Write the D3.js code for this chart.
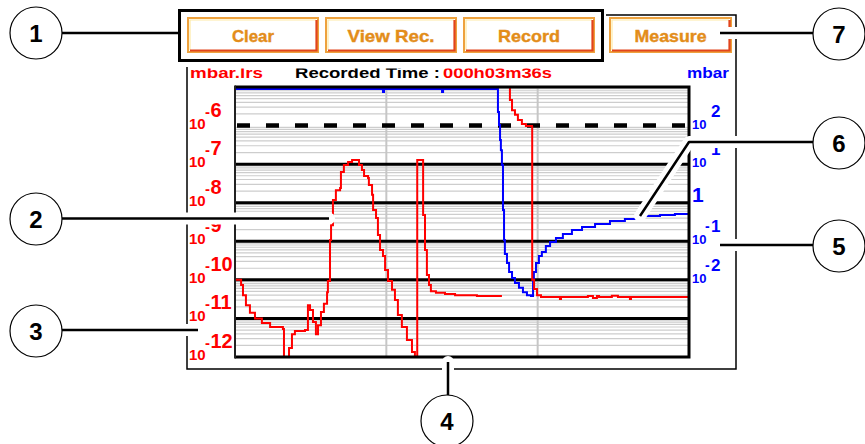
<!DOCTYPE html>
<html>
<head>
<meta charset="utf-8">
<script src="https://cdn.jsdelivr.net/npm/d3@7"></script>
<style>
  html, body { margin: 0; padding: 0; background: #fff; }
  svg { display: block; font-family: "Liberation Sans", Arial, sans-serif; }
</style>
</head>
<body>
<svg id="chart" width="865" height="444"></svg>
<script>
// Leak rate trace (mbar·l/s) against elapsed time in seconds; null = off-scale gap
const leakTime = [0, 2.4, 2.9, 3.8, 5.2, 7.1, 9.5, 12.8, 16.7, 22.8, 23.3, 25.2, 25.7, 27.1, 28.5, 33.3, 34.3, 34.7, 35.7, 37.1,
  38.5, 39.5, 40.9, 42.3, 43.8, 44.2, 45.2, 45.7, 46.6, 48.0, 50.0, 50.4, 51.8, 53.8, 55.7, 57.6, 59.0, 60.4, 61.4, 63.3,
  63.7, 65.2, 65.7, 67.1, 68.0, 69.0, 70.4, 71.4, 72.8, 74.7, 76.1, 77.5, 79.4, 81.8, 84.2, 85.6, 86.6, 86.7, 89.4, 89.5,
  90.4, 91.3, 92.3, 93.2, 95.6, 99.9, 104.7, 114.2, 115.1, 127.0, 128.5,
  129.9, 130.8, 131.8, 133.2, 134.6, 136.5, 138.4, 141.3, 141.4, 142.3, 143.7, 145.6, 154.1, 154.6, 155.1, 167.4, 167.9,
  170.3, 172.2, 173.2, 178.9, 179.3, 181.7, 182.2, 187.4, 187.9, 188.4, 216];
const leakRate = [1.0e-10, 1.0e-10, 7.4e-11, 4.0e-11, 2.2e-11, 1.4e-11, 1.0e-11, 7.6e-12, 6.0e-12, 5.3e-12, 1.0e-12, 1.0e-12,
  1.7e-12, 3.9e-12, 4.7e-12, 5.0e-12, 5.0e-12, 2.2e-11, 1.65e-11, 8.1e-12,
  3.9e-12, 6.7e-12, 1.47e-11, 2.4e-11, 4.8e-11, 9.3e-11, 1.08e-9, 2.6e-9, 1.17e-8, 2.1e-8, 2.4e-8, 6.25e-8, 9.5e-8, 1.14e-7,
  1.28e-7, 1.28e-7, 9.5e-8, 7.0e-8, 4.9e-8, 4.4e-8,
  2.9e-8, 1.6e-8, 6.5e-9, 4.0e-9, 1.46e-9, 5.9e-10, 4.15e-10, 1.8e-10, 9.3e-11, 5.5e-11, 3.0e-11, 1.23e-11, 6.0e-12,
  2.76e-12, 1.35e-12, 1.0e-12, 1.0e-12, 1.28e-7, 1.28e-7, 4.8e-9,
  5.9e-10, 1.34e-10, 7.4e-11, 5.1e-11, 4.6e-11, 4.3e-11, 4.0e-11, 4.0e-11, 3.8e-11, 3.8e-11, null,
  1.0e-5, 4.6e-6, 2.5e-6, 1.9e-6, 1.4e-6, 1.1e-6, 9.75e-7, 9.2e-7, 1.0e-10, 5.8e-11, 4.0e-11, 3.6e-11, 3.6e-11, 3.2e-11,
  3.6e-11, 3.6e-11, 3.8e-11,
  3.4e-11, 3.8e-11, 3.6e-11, 3.6e-11, 3.9e-11, 3.9e-11, 3.6e-11, 3.6e-11, 3.2e-11, 3.6e-11, 3.6e-11];

// Total pressure trace (mbar) on the same time base
const pressTime = [0, 69.9, 70.4, 70.9, 98.0, 98.5, 99.0, 124.6, 125.1, 125.6, 126.1, 126.5, 127.0, 127.5, 128.0, 128.4,
  129.4, 130.4, 131.8, 133.2, 135.1, 137.0, 138.9, 140.8, 141.8, 142.2, 143.2, 144.6, 146.0, 147.9, 149.9, 152.7, 156.0,
  160.3, 165.1, 171.3, 178.4, 185.5, 192.7, 202.2, 209.3, 216];
const pressure = [890, 890, 740, 890, 890, 740, 890, 890, 225, 103, 42, 23, 9.5, 0.65, 0.108, 0.047,
  0.0274, 0.016, 0.0112, 0.0083, 0.0062, 0.0048, 0.0040, 0.0038, 0.0099, 0.016, 0.0274, 0.0415, 0.053, 0.0755, 0.096,
  0.122, 0.155, 0.196, 0.234, 0.28, 0.336, 0.378, 0.45, 0.48, 0.51, 0.54];

// Axis settings
const timeDomain = [0, 216];
const timeGrid = [72, 144];
const leakDomain = [1e-12, 1e-5];
const pressDomain = [1e-4, 1e3];
const leakLabelExps = [-6, -7, -8, -9, -10, -11, -12];
const pressLabelExps = [2, 1, 0, -1, -2];
const thresholdExp = -6;

// Header texts and button captions
const leakUnit = "mbar.lrs";
const timeCaption = "Recorded Time : ";
const timeValue = "000h03m36s";
const pressUnit = "mbar";
const buttonLabels = ["Clear", "View Rec.", "Record", "Measure"];
const calloutNumbers = ["1", "2", "3", "4", "5", "6", "7"];

const svg = d3.select("#chart");
const P = { left: 235, right: 689, top: 87, bottom: 357 };

const x = d3.scaleLinear().domain(timeDomain).range([P.left, P.right]);
const yL = d3.scaleLog().domain(leakDomain).range([P.bottom, P.top]);
const yR = d3.scaleLog().domain(pressDomain).range([P.bottom, P.top]);

const RED = "#ff0000", BLUE = "#0000ff";

// ---------- outer frame and button group box ----------
svg.append("path")
  .attr("d", "M187,67 V369 H736 V15 H606")
  .attr("fill", "none").attr("stroke", "#000").attr("stroke-width", 1.5);

svg.append("rect")
  .attr("x", 179.5).attr("y", 10.5).attr("width", 423).attr("height", 50)
  .attr("fill", "none").attr("stroke", "#000").attr("stroke-width", 3);

// ---------- buttons ----------
const buttonBoxes = [
  { x: 187, w: 132, tw: 42 },
  { x: 325, w: 132, tw: 87 },
  { x: 463, w: 132, tw: 62 },
  { x: 609, w: 123, tw: 72 }
];
const by = 17, bh = 36;
buttonLabels.forEach((lab, i) => {
  const b = buttonBoxes[i];
  const g = svg.append("g");
  g.append("rect").attr("x", b.x + 1).attr("y", by + 1).attr("width", b.w - 2).attr("height", bh - 2)
    .attr("fill", "#fff").attr("stroke", "#eea23e").attr("stroke-width", 2);
  g.append("path")
    .attr("d", `M${b.x + 3},${by + bh - 3} V${by + 3} H${b.x + b.w - 3}`)
    .attr("fill", "none").attr("stroke", "#fde9a6").attr("stroke-width", 1.2);
  g.append("path")
    .attr("d", `M${b.x + 3},${by + bh - 2.5} H${b.x + b.w - 2.5} V${by + 3}`)
    .attr("fill", "none").attr("stroke", "#e2441c").attr("stroke-width", 2.2);
  g.append("text")
    .attr("x", b.x + b.w / 2 - b.tw / 2).attr("y", 42)
    .attr("textLength", b.tw).attr("lengthAdjust", "spacingAndGlyphs")
    .attr("font-size", 17).attr("font-weight", "bold").attr("fill", "#e38d1a")
    .attr("stroke", "#e38d1a").attr("stroke-width", 0.4)
    .text(lab);
});

// ---------- header line ----------
svg.append("clipPath").attr("id", "hdrClip")
  .append("rect").attr("x", 187).attr("y", 68.5).attr("width", 420).attr("height", 20);
const hdr = svg.append("g").attr("clip-path", "url(#hdrClip)")
  .attr("font-size", 15).attr("font-weight", "bold");
hdr.append("text").attr("x", 190).attr("y", 78).attr("fill", RED)
  .attr("textLength", 73).attr("lengthAdjust", "spacingAndGlyphs").text(leakUnit);
hdr.append("text").attr("x", 295).attr("y", 78).attr("fill", "#000")
  .attr("textLength", 145).attr("lengthAdjust", "spacingAndGlyphs").text(timeCaption);
hdr.append("text").attr("x", 443).attr("y", 78).attr("fill", RED)
  .attr("textLength", 109).attr("lengthAdjust", "spacingAndGlyphs").text(timeValue);
svg.append("text").attr("x", 687).attr("y", 78).attr("fill", BLUE)
  .attr("font-size", 15).attr("font-weight", "bold")
  .attr("textLength", 42).attr("lengthAdjust", "spacingAndGlyphs").text(pressUnit);

// ---------- plot grid ----------
const plot = svg.append("g");
plot.append("rect").attr("x", P.left).attr("y", P.top)
  .attr("width", P.right - P.left).attr("height", P.bottom - P.top).attr("fill", "#fff");

const allTicks = yL.ticks();
const isDecade = v => Math.abs(Math.log10(v) - Math.round(Math.log10(v))) < 1e-9;
const minor = allTicks.filter(v => !isDecade(v));
const decades = allTicks.filter(v => isDecade(v) && v > leakDomain[0] && v < leakDomain[1]);

plot.selectAll("line.minor").data(minor).join("line")
  .attr("class", "minor")
  .attr("x1", P.left).attr("x2", P.right)
  .attr("y1", d => yL(d)).attr("y2", d => yL(d))
  .attr("stroke", "#cdcdcd").attr("stroke-width", 1.2);

plot.selectAll("line.vgrid").data(timeGrid).join("line")
  .attr("class", "vgrid")
  .attr("x1", d => x(d)).attr("x2", d => x(d))
  .attr("y1", P.top).attr("y2", P.bottom)
  .attr("stroke", "#c6c6c6").attr("stroke-width", 2);

plot.selectAll("line.decade").data(decades).join("line")
  .attr("class", "decade")
  .attr("x1", P.left).attr("x2", P.right)
  .attr("y1", d => yL(d)).attr("y2", d => yL(d))
  .attr("stroke", "#000")
  .attr("stroke-width", d => Math.round(Math.log10(d)) === thresholdExp ? 4.5 : 3)
  .attr("stroke-dasharray", d => Math.round(Math.log10(d)) === thresholdExp ? "13,16" : null)
  .attr("stroke-dashoffset", -2);

// ---------- traces (sampled values, drawn as steps) ----------
svg.append("clipPath").attr("id", "plotClip")
  .append("rect").attr("x", P.left).attr("y", P.top - 1)
  .attr("width", P.right - P.left).attr("height", P.bottom - P.top + 2);

const leakData = leakTime.map((t, i) => ({ t, v: leakRate[i] }));
const pressData = pressTime.map((t, i) => ({ t, v: pressure[i] }));

const traces = svg.append("g").attr("clip-path", "url(#plotClip)");
traces.append("path").datum(pressData)
  .attr("d", d3.line().curve(d3.curveStepAfter).x(d => x(d.t)).y(d => yR(d.v)))
  .attr("fill", "none").attr("stroke", BLUE).attr("stroke-width", 2);
traces.append("path").datum(leakData)
  .attr("d", d3.line().curve(d3.curveStepAfter).defined(d => d.v != null).x(d => x(d.t)).y(d => yL(d.v)))
  .attr("fill", "none").attr("stroke", RED).attr("stroke-width", 2);

// plot border
svg.append("path")
  .attr("d", `M${P.left},${P.top} H${P.right} V${P.bottom} H${P.left}`)
  .attr("fill", "none").attr("stroke", "#000").attr("stroke-width", 3);
svg.append("line")
  .attr("x1", P.left).attr("x2", P.left).attr("y1", P.top - 1.5).attr("y2", P.bottom + 1.5)
  .attr("stroke", "#222").attr("stroke-width", 2);

// ---------- axis labels ----------
const leftLab = svg.append("g").attr("fill", RED).attr("font-weight", "bold");
leakLabelExps.forEach(e => {
  const y = yL(Math.pow(10, e));
  const t = leftLab.append("text");
  t.append("tspan").attr("x", 189).attr("y", y + 3).attr("font-size", 15).text("10");
  t.append("tspan").attr("x", 205).attr("y", y - 9).attr("font-size", 15).text("-");
  t.append("tspan").attr("x", 210.5).attr("y", y - 9).attr("font-size", 20).text(String(-e));
});

const rightLab = svg.append("g").attr("fill", BLUE).attr("font-weight", "bold");
pressLabelExps.forEach(e => {
  const y = yR(Math.pow(10, e));
  const t = rightLab.append("text");
  if (e === 0) {
    t.attr("x", 692).attr("y", y - 1).attr("font-size", 21).text("1");
    return;
  }
  t.append("tspan").attr("x", 692).attr("y", y + 3).attr("font-size", 13).text("10");
  if (e < 0) t.append("tspan").attr("x", 705).attr("y", y - 10).attr("font-size", 14).text("-");
  t.append("tspan").attr("x", 711).attr("y", y - 9).attr("font-size", 17).text(String(Math.abs(e)));
});

// ---------- numbered callouts ----------
const callouts = [
  { n: 0, cx: 36, cy: 33, path: "M62,33 H178", halo: false },
  { n: 1, cx: 36, cy: 219, path: "M62,218.5 H329", halo: true },
  { n: 2, cx: 36, cy: 331, path: "M62,330 H198", halo: true },
  { n: 3, cx: 447, cy: 421, path: "M448,362 V395", halo: true },
  { n: 4, cx: 839, cy: 246, path: "M720,245 H813", halo: true },
  { n: 5, cx: 839, cy: 143, path: "M640,216 L689,142 H813", halo: true },
  { n: 6, cx: 839, cy: 34, path: "M720,33 H813", halo: true }
];
const co = svg.append("g");
callouts.filter(c => c.halo).forEach(c => {
  co.append("path").attr("d", c.path).attr("fill", "none")
    .attr("stroke", "#fff").attr("stroke-width", 12).attr("stroke-linecap", "round").attr("stroke-linejoin", "round");
});
callouts.forEach(c => {
  co.append("path").attr("d", c.path).attr("fill", "none")
    .attr("stroke", "#000").attr("stroke-width", 2.5).attr("stroke-linejoin", "round");
});
callouts.forEach(c => {
  co.append("circle").attr("cx", c.cx).attr("cy", c.cy).attr("r", 26)
    .attr("fill", "#fff").attr("stroke", "#000").attr("stroke-width", 1.2);
  co.append("text").attr("x", c.cx).attr("y", c.cy + 8.5)
    .attr("text-anchor", "middle").attr("font-size", 24).attr("font-weight", "bold")
    .attr("fill", "#000").text(calloutNumbers[c.n]);
});
</script>
</body>
</html>
